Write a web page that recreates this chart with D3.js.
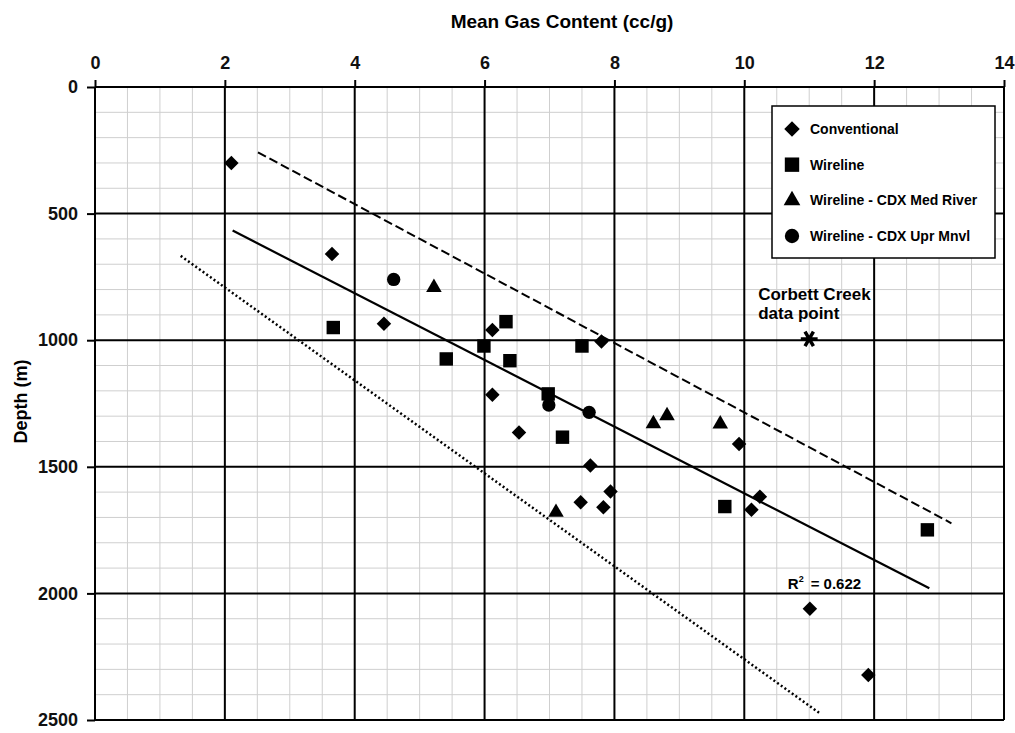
<!DOCTYPE html>
<html>
<head>
<meta charset="utf-8">
<script src="https://cdn.jsdelivr.net/npm/d3@7"></script>
<style>
  body { margin: 0; background: #fff; }
  svg { font-family: "Liberation Sans", Arial, sans-serif; font-weight: bold; }
</style>
</head>
<body>
<div id="chart"></div>
<script>
// gas content (cc/g) vs depth (m)
var conventional = [[2.1, 300], [3.65, 660], [4.45, 935], [6.12, 960], [7.8, 1005], [6.12, 1215],
    [6.53, 1365], [7.63, 1495], [9.92, 1410], [7.94, 1598], [7.48, 1640], [7.83, 1660],
    [10.24, 1618], [10.11, 1670], [11.01, 2061], [11.91, 2322]];
var wireline = [[3.67, 950], [6.33, 927], [5.99, 1023], [5.41, 1074], [6.39, 1081], [7.5, 1023],
    [6.98, 1212], [7.2, 1383], [9.7, 1657], [12.82, 1749]];
var medRiver = [[5.22, 792], [8.6, 1330], [8.81, 1298], [9.63, 1331], [7.1, 1680]];
var uprMnvl = [[4.6, 760], [6.99, 1256], [7.61, 1285]];
var corbett = [[11.0, 995]];

var regressionLine = [[2.12, 567], [12.85, 1980]];
var upperLine = [[2.51, 258], [13.19, 1723]];
var lowerLine = [[1.32, 667], [11.16, 2473]];

var xTicks = [0, 2, 4, 6, 8, 10, 12, 14];
var yTicks = [0, 500, 1000, 1500, 2000, 2500];
var legendLabels = ["Conventional", "Wireline", "Wireline - CDX Med River", "Wireline - CDX Upr Mnvl"];

var margin = { top: 87, right: 11, bottom: 13, left: 95 },
    width = 1015 - margin.left - margin.right,
    height = 733 - margin.top - margin.bottom;

var svg = d3.select("#chart").append("svg")
    .attr("width", 1015)
    .attr("height", 733)
    .append("g")
    .attr("transform", "translate(" + margin.left + "," + margin.top + ")");

var x = d3.scaleLinear().domain([0, 14]).range([0, width]);
var y = d3.scaleLinear().domain([0, 2500]).range([0, height]);

// minor grid
svg.append("g").selectAll("line")
    .data(d3.range(0.5, 14, 0.5).filter(function (d) { return d % 2 != 0; }))
    .enter().append("line")
    .attr("x1", function (d) { return x(d); }).attr("x2", function (d) { return x(d); })
    .attr("y1", 0).attr("y2", height)
    .style("stroke", "#cfcfcf").style("stroke-width", 1);
svg.append("g").selectAll("line")
    .data(d3.range(100, 2500, 100).filter(function (d) { return d % 500 != 0; }))
    .enter().append("line")
    .attr("y1", function (d) { return y(d); }).attr("y2", function (d) { return y(d); })
    .attr("x1", 0).attr("x2", width)
    .style("stroke", "#cfcfcf").style("stroke-width", 1);

// major grid
svg.append("g").selectAll("line")
    .data(xTicks)
    .enter().append("line")
    .attr("x1", function (d) { return x(d); }).attr("x2", function (d) { return x(d); })
    .attr("y1", 0).attr("y2", height)
    .style("stroke", "#000").style("stroke-width", 2);
svg.append("g").selectAll("line")
    .data(yTicks)
    .enter().append("line")
    .attr("y1", function (d) { return y(d); }).attr("y2", function (d) { return y(d); })
    .attr("x1", 0).attr("x2", width)
    .style("stroke", "#000").style("stroke-width", 2);

// axes
var xAxis = svg.append("g")
    .call(d3.axisTop(x).tickValues(xTicks).tickSize(7).tickPadding(11));
var yAxis = svg.append("g")
    .call(d3.axisLeft(y).tickValues(yTicks).tickFormat(d3.format("d")).tickSize(8).tickPadding(9));
[xAxis, yAxis].forEach(function (a) {
    a.select(".domain").remove();
    a.selectAll("line").style("stroke", "#000").style("stroke-width", 2);
    a.selectAll("text").style("font-size", "18px").style("font-weight", "bold")
        .style("font-family", "'Liberation Sans', Arial, sans-serif").style("fill", "#111");
});

svg.append("text")
    .attr("x", 467).attr("y", -59)
    .attr("text-anchor", "middle")
    .style("font-size", "19px")
    .text("Mean Gas Content (cc/g)");

svg.append("text")
    .attr("transform", "translate(" + (-68) + "," + (y(1250) - 2) + ") rotate(-90)")
    .attr("text-anchor", "middle")
    .style("font-size", "18px")
    .text("Depth (m)");

// trend lines
var line = d3.line()
    .x(function (d) { return x(d[0]); })
    .y(function (d) { return y(d[1]); });

svg.append("path").datum(upperLine)
    .attr("d", line).style("fill", "none").style("stroke", "#000")
    .style("stroke-width", 2).style("stroke-dasharray", "9,4");
svg.append("path").datum(regressionLine)
    .attr("d", line).style("fill", "none").style("stroke", "#000")
    .style("stroke-width", 2.2);
svg.append("path").datum(lowerLine)
    .attr("d", line).style("fill", "none").style("stroke", "#000")
    .style("stroke-width", 2.5).style("stroke-dasharray", "2,2.5");

// point series
var series = [
    { data: conventional, type: d3.symbolSquare, size: 105, rotate: 45 },
    { data: wireline, type: d3.symbolSquare, size: 180, rotate: 0 },
    { data: medRiver, type: d3.symbolTriangle, size: 105, rotate: 0 },
    { data: uprMnvl, type: d3.symbolCircle, size: 140, rotate: 0 }
];

series.forEach(function (s) {
    svg.append("g").selectAll("path")
        .data(s.data)
        .enter().append("path")
        .attr("d", d3.symbol().type(s.type).size(s.size))
        .attr("transform", function (d) {
            return "translate(" + x(d[0]) + "," + y(d[1]) + ") rotate(" + s.rotate + ")";
        })
        .style("fill", "#000");
});

svg.append("g").selectAll("path")
    .data(corbett)
    .enter().append("path")
    .attr("d", d3.symbol().type(d3.symbolAsterisk).size(200))
    .attr("transform", function (d) { return "translate(" + x(d[0]) + "," + y(d[1]) + ") rotate(90)"; })
    .style("fill", "none").style("stroke", "#000").style("stroke-width", 3.5);

svg.append("text")
    .attr("x", x(11.0) - 51).attr("y", y(1000) - 40)
    .style("font-size", "17px")
    .text("Corbett Creek");
svg.append("text")
    .attr("x", x(11.0) - 51).attr("y", y(1000) - 21)
    .style("font-size", "17px")
    .text("data point");

var r2 = svg.append("text")
    .attr("x", x(10.67)).attr("y", y(2000) - 4)
    .style("font-size", "15px");
r2.append("tspan").text("R");
r2.append("tspan").attr("dy", -7).style("font-size", "9px").text("2");
r2.append("tspan").attr("dy", 7).attr("dx", 7).text("= 0.622");

// legend
var legend = svg.append("g")
    .attr("transform", "translate(" + (772 - margin.left) + "," + (106 - margin.top) + ")");
legend.append("rect")
    .attr("width", 223).attr("height", 152)
    .style("fill", "#fff").style("stroke", "#000").style("stroke-width", 1.5);

var legendY = d3.scalePoint().domain(legendLabels).range([23, 130]);
var items = legend.selectAll("g.item")
    .data(series)
    .enter().append("g")
    .attr("class", "item")
    .attr("transform", function (d, i) { return "translate(0," + legendY(legendLabels[i]) + ")"; });
items.append("path")
    .attr("d", function (d) { return d3.symbol().type(d.type).size(d.size * 1.15)(); })
    .attr("transform", function (d) { return "translate(20,0) rotate(" + d.rotate + ")"; })
    .style("fill", "#000");
items.append("text")
    .attr("x", 38).attr("dy", "0.35em")
    .style("font-size", "14px")
    .text(function (d, i) { return legendLabels[i]; });
</script>
</body>
</html>
